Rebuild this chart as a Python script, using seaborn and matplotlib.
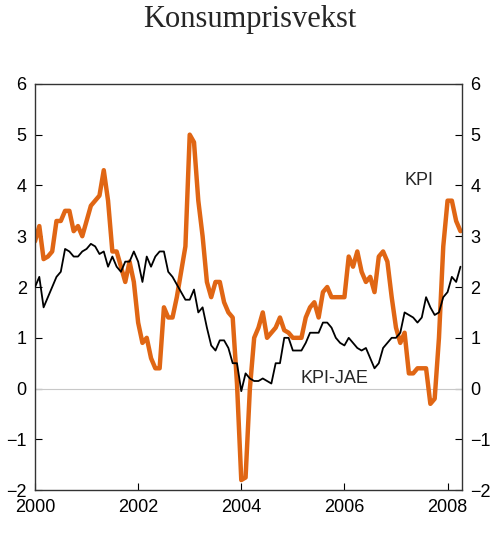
import numpy as np
import pandas as pd
import seaborn as sns
import matplotlib.pyplot as plt

# monthly 12-month growth, Jan 2000 - Apr 2008
kpi = [2.9, 3.2, 2.55, 2.6, 2.7, 3.3, 3.3, 3.5, 3.5, 3.1, 3.2, 3.0,
       3.3, 3.6, 3.7, 3.8, 4.3, 3.7, 2.7, 2.7, 2.4, 2.1, 2.5, 2.1,
       1.3, 0.9, 1.0, 0.6, 0.4, 0.4, 1.6, 1.4, 1.4, 1.8, 2.3, 2.8,
       5.0, 4.85, 3.7, 3.0, 2.1, 1.8, 2.1, 2.1, 1.7, 1.5, 1.4, 0.1,
       -1.8, -1.75, 0.0, 1.0, 1.2, 1.5, 1.0, 1.1, 1.2, 1.4, 1.15, 1.1,
       1.0, 1.0, 1.0, 1.4, 1.6, 1.7, 1.4, 1.9, 2.0, 1.8, 1.8, 1.8,
       1.8, 2.6, 2.4, 2.7, 2.3, 2.1, 2.2, 1.9, 2.6, 2.7, 2.5, 1.8,
       1.2, 0.9, 1.1, 0.3, 0.3, 0.4, 0.4, 0.4, -0.3, -0.2, 1.0, 2.8,
       3.7, 3.7, 3.3, 3.1]
kpi_jae = [2.0, 2.2, 1.6, 1.8, 2.0, 2.2, 2.3, 2.75, 2.7, 2.6, 2.6, 2.7,
           2.75, 2.85, 2.8, 2.65, 2.7, 2.4, 2.6, 2.4, 2.3, 2.5, 2.5, 2.7,
           2.5, 2.1, 2.6, 2.4, 2.6, 2.7, 2.7, 2.3, 2.2, 2.05, 1.9, 1.75,
           1.75, 1.95, 1.5, 1.6, 1.2, 0.85, 0.75, 0.95, 0.95, 0.8, 0.5, 0.5,
           -0.05, 0.3, 0.2, 0.15, 0.15, 0.2, 0.15, 0.1, 0.5, 0.5, 1.0, 1.0,
           0.75, 0.75, 0.75, 0.9, 1.1, 1.1, 1.1, 1.3, 1.3, 1.2, 1.0, 0.9,
           0.85, 1.0, 0.9, 0.8, 0.75, 0.8, 0.6, 0.4, 0.5, 0.8, 0.9, 1.0,
           1.0, 1.1, 1.5, 1.45, 1.4, 1.3, 1.4, 1.8, 1.6, 1.45, 1.5, 1.8,
           1.9, 2.2, 2.1, 2.4]
year_ticks = [2000, 2002, 2004, 2006, 2008]

t = 2000 + np.arange(len(kpi)) / 12
df = pd.DataFrame({"t": t, "KPI": kpi, "KPI-JAE": kpi_jae})

sns.set_style("ticks")
plt.rcParams["font.family"] = ["Liberation Sans", "DejaVu Sans"]

fig = plt.figure(figsize=(5, 5.34), dpi=100)
ax = fig.add_axes([0.07, 0.082, 0.854, 0.761])

ax.axhline(0, color="#c8c8c8", lw=0.8, zorder=1)
sns.lineplot(data=df, x="t", y="KPI-JAE", ax=ax, color="black", lw=1.3, zorder=3)
sns.lineplot(data=df, x="t", y="KPI", ax=ax, color="#e06614", lw=3.2, zorder=2)

ax.set_xlim(2000, 2008.28)
ax.set_ylim(-2, 6)
ax.set_xticks(year_ticks)
ax.set_yticks(range(-2, 7))
ax.set_xlabel("")
ax.set_ylabel("")
ax.tick_params(direction="in", length=5, labelsize=13, colors="black",
               right=True, labelright=True, pad=6)
for s in ax.spines.values():
    s.set_visible(True)
    s.set_color("#333333")
    s.set_linewidth(1.0)

ax.text(2007.45, 4.1, "KPI", fontsize=13, ha="center", va="center")
ax.text(2005.8, 0.2, "KPI-JAE", fontsize=13, ha="center", va="center")

fig.suptitle("Konsumprisvekst", y=0.99, fontsize=22,
             family=["Liberation Serif", "DejaVu Serif"])

fig.savefig("out.png", dpi=100)
